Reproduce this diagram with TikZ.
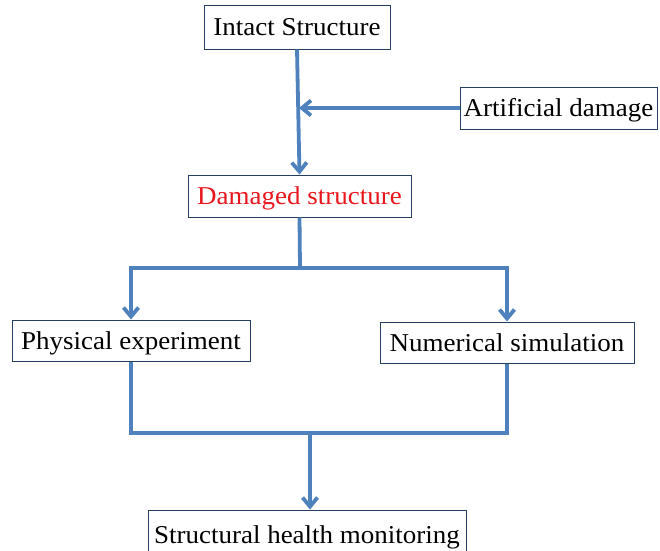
\documentclass[tikz,border=0pt]{standalone}
\usepackage{fontspec}
\setmainfont[FakeStretch=1.05]{Liberation Serif}
\usetikzlibrary{arrows.meta}
\definecolor{linkblue}{HTML}{4F81BD}
\definecolor{boxedge}{HTML}{243F60}
\definecolor{dmgred}{HTML}{E8171E}
\begin{document}
\begin{tikzpicture}[x=1pt,y=-1pt,
  box/.style={draw=boxedge,line width=1pt,fill=white,inner sep=0pt,
    text height=17pt,text depth=0pt,
    font=\fontsize{25.7}{29}\selectfont},
  link/.style={draw=linkblue,line width=3.8pt},
  arr/.style={link,-{Straight Barb[length=9pt,width=15pt]}}]
\useasboundingbox (0,0) rectangle (660,550);
\node[box,minimum width=186pt,minimum height=44pt] (intact) at (297,27) {Intact Structure};
\node[box,minimum width=197pt,minimum height=42pt] (art) at (558.5,108) {Artificial damage};
\node[box,minimum width=223pt,minimum height=42pt,text=dmgred] (dam) at (299.5,196) {Damaged structure};
\node[box,minimum width=238pt,minimum height=41pt] (phys) at (131,340.5) {Physical experiment};
\node[box,minimum width=254pt,minimum height=41pt] (num) at (507,342.5) {Numerical simulation};
\node[box,minimum width=318pt,minimum height=50pt] (shm) at (307,535) {Structural health monitoring};
\coordinate (j1) at (299,108);
\coordinate (j2) at (300,268);
\coordinate (j3) at (310,433);
\draw[arr] (intact.south) -- (dam.north);
\draw[arr] (art.west) -- (j1);
\draw[link] (dam.south) -- (j2);
\draw[arr] (j2) -| (phys.north);
\draw[arr] (j2) -| (num.north);
\draw[link] (phys.south) |- (j3);
\draw[link] (num.south) |- (j3);
\draw[arr] (j3) -- (j3 |- shm.north);
\end{tikzpicture}
\end{document}
